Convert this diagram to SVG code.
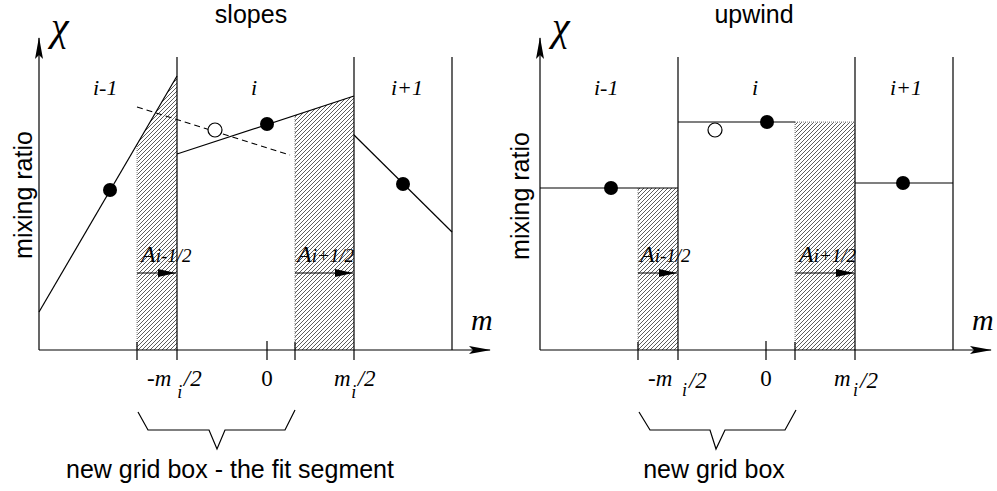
<svg xmlns="http://www.w3.org/2000/svg" width="997" height="491" viewBox="0 0 997 491">
<style>
.ln{stroke:#000;stroke-width:1.2;fill:none}
.dash{stroke:#000;stroke-width:1.1;fill:none;stroke-dasharray:6,4}
.dotb{stroke:#888;stroke-width:1;fill:none;stroke-dasharray:1,1}
.sans{font-family:"Liberation Sans",Arial,sans-serif;font-size:25px;fill:#000}
.math{font-family:"Liberation Serif","Times New Roman",serif;font-style:italic;fill:#000}
.up{font-family:"Liberation Serif","Times New Roman",serif;fill:#000}
.hatch{fill:url(#hatch);stroke:none}
.dot{fill:#000}
.open{fill:#fff;stroke:#000;stroke-width:1.2}
.axis{stroke:#000;stroke-width:1.2;fill:none;marker-end:url(#axarr)}
.flow{stroke:#000;stroke-width:1.1;fill:none;marker-end:url(#flarr)}
</style>
<defs>
<pattern id="hatch" patternUnits="userSpaceOnUse" width="4" height="4">
<path d="M-1,1 l2,-2 M0,4 l4,-4 M3,5 l2,-2" stroke="#333" stroke-width="0.8"/>
</pattern>
<marker id="axarr" viewBox="0 0 22 8" refX="21" refY="4" markerWidth="22" markerHeight="8" markerUnits="userSpaceOnUse" orient="auto">
<path d="M0,0 L22,4 L0,8 L4,4 z" fill="#000"/>
</marker>
<marker id="flarr" viewBox="0 0 18 8" refX="18" refY="4" markerWidth="18" markerHeight="8" markerUnits="userSpaceOnUse" orient="auto">
<path d="M0,0 L18,4 L0,8 z" fill="#000"/>
</marker>
</defs>
<rect width="997" height="491" fill="#fff"/>

<!-- ===== Left panel: slopes ===== -->
<g id="slopes">
<text class="sans" x="251" y="23" text-anchor="middle">slopes</text>
<g id="slopes-hatch">
<polygon class="hatch" points="137,144.4 177,76 177,350 137,350"/>
<polygon class="hatch" points="295,115.3 354,96 354,350 295,350"/>
<line class="dotb" x1="137" y1="144" x2="137" y2="350"/>
<line class="dotb" x1="295" y1="115" x2="295" y2="350"/>
</g>
<g id="slopes-cells">
<line class="ln" x1="177" y1="57" x2="177" y2="360"/>
<line class="ln" x1="354" y1="57" x2="354" y2="360"/>
<line class="ln" x1="452" y1="57" x2="452" y2="350"/>
<line class="ln" x1="137" y1="342" x2="137" y2="360"/>
<line class="ln" x1="267" y1="341" x2="267" y2="360"/>
<line class="ln" x1="295" y1="342" x2="295" y2="360"/>
<text class="math" font-size="22" x="93" y="95">i-1</text>
<text class="math" font-size="22" x="251" y="95">i</text>
<text class="math" font-size="22" x="391" y="95">i+1</text>
</g>
<g id="slopes-fits">
<line class="ln" x1="39" y1="312" x2="177" y2="76"/>
<line class="ln" x1="177" y1="154" x2="354" y2="96"/>
<line class="ln" x1="354" y1="135" x2="452" y2="232"/>
<line class="dash" x1="137" y1="107" x2="290" y2="155"/>
<circle class="dot" cx="110" cy="190" r="7"/>
<circle class="dot" cx="267" cy="124" r="7"/>
<circle class="dot" cx="403" cy="184" r="7"/>
<circle class="open" cx="215" cy="130" r="7"/>
</g>
<g id="slopes-axes">
<line class="axis" x1="39" y1="350" x2="39" y2="38"/>
<line class="axis" x1="39" y1="350" x2="490" y2="350"/>
<text class="math" font-size="40" x="51" y="40">χ</text>
<text class="math" font-size="30" x="471" y="330">m</text>
<text class="sans" transform="translate(32,195) rotate(-90)" text-anchor="middle">mixing ratio</text>
<text class="math" font-size="23" x="147" y="386">-m<tspan font-size="18" dx="6" dy="12">i</tspan><tspan dx="1.5" dy="-12">/2</tspan></text>
<text class="up" font-size="23" x="267" y="386" text-anchor="middle">0</text>
<text class="math" font-size="23" x="334" y="386">m<tspan font-size="18" dx="0.5" dy="12">i</tspan><tspan dx="1.5" dy="-12">/2</tspan></text>
</g>
<g id="slopes-flux">
<line class="flow" x1="137" y1="273" x2="176" y2="273"/>
<line class="flow" x1="295" y1="273" x2="353" y2="273"/>
<text class="math" x="141" y="262"><tspan font-size="24">A</tspan><tspan font-size="19">i-1/2</tspan></text>
<text class="math" x="297" y="262"><tspan font-size="24">A</tspan><tspan font-size="19">i+1/2</tspan></text>
</g>
<g id="slopes-brace">
<polyline class="ln" points="138,412 148,430 209,430 217,449 225,430 285,430 295,410"/>
<text class="sans" x="230" y="478" text-anchor="middle">new grid box - the fit segment</text>
</g>
</g>

<!-- ===== Right panel: upwind ===== -->
<g id="upwind">
<text class="sans" x="754" y="23" text-anchor="middle">upwind</text>
<g id="upwind-hatch">
<rect class="hatch" x="638" y="188" width="40" height="162"/>
<rect class="hatch" x="795" y="122" width="60" height="228"/>
<line class="dotb" x1="638" y1="188" x2="638" y2="350"/>
<line class="dotb" x1="795" y1="122" x2="795" y2="350"/>
<line class="dotb" x1="795" y1="122" x2="855" y2="122"/>
</g>
<g id="upwind-cells">
<line class="ln" x1="678" y1="57" x2="678" y2="360"/>
<line class="ln" x1="855" y1="57" x2="855" y2="360"/>
<line class="ln" x1="953" y1="57" x2="953" y2="350"/>
<line class="ln" x1="638" y1="342" x2="638" y2="360"/>
<line class="ln" x1="766" y1="341" x2="766" y2="360"/>
<line class="ln" x1="795" y1="342" x2="795" y2="360"/>
<text class="math" font-size="22" x="594" y="95">i-1</text>
<text class="math" font-size="22" x="752" y="95">i</text>
<text class="math" font-size="22" x="890" y="95">i+1</text>
</g>
<g id="upwind-values">
<line class="ln" x1="540" y1="188" x2="678" y2="188"/>
<line class="ln" x1="678" y1="122" x2="795" y2="122"/>
<line class="ln" x1="855" y1="183" x2="953" y2="183"/>
<circle class="dot" cx="611" cy="188" r="7"/>
<circle class="dot" cx="767" cy="122" r="7"/>
<circle class="dot" cx="903" cy="183" r="7"/>
<circle class="open" cx="715" cy="130" r="7"/>
</g>
<g id="upwind-axes">
<line class="axis" x1="540" y1="350" x2="540" y2="38"/>
<line class="axis" x1="540" y1="350" x2="991" y2="350"/>
<text class="math" font-size="40" x="552" y="40">χ</text>
<text class="math" font-size="30" x="972" y="330">m</text>
<text class="sans" transform="translate(529,196) rotate(-90)" text-anchor="middle">mixing ratio</text>
<text class="math" font-size="23" x="648" y="386">-m<tspan font-size="18" dx="9.7" dy="10">i</tspan><tspan dx="2" dy="-8">/2</tspan></text>
<text class="up" font-size="23" x="766" y="386" text-anchor="middle">0</text>
<text class="math" font-size="23" x="834" y="386">m<tspan font-size="18" dx="2.4" dy="10">i</tspan><tspan dx="2" dy="-8">/2</tspan></text>
</g>
<g id="upwind-flux">
<line class="flow" x1="638" y1="273" x2="677" y2="273"/>
<line class="flow" x1="795" y1="273" x2="854" y2="273"/>
<text class="math" x="640" y="262"><tspan font-size="24">A</tspan><tspan font-size="19">i-1/2</tspan></text>
<text class="math" x="799" y="262"><tspan font-size="24">A</tspan><tspan font-size="19">i+1/2</tspan></text>
</g>
<g id="upwind-brace">
<polyline class="ln" points="639,412 650,430 710,430 716,449 725,430 785,430 796,410"/>
<text class="sans" x="714" y="478" text-anchor="middle">new grid box</text>
</g>
</g>
</svg>
